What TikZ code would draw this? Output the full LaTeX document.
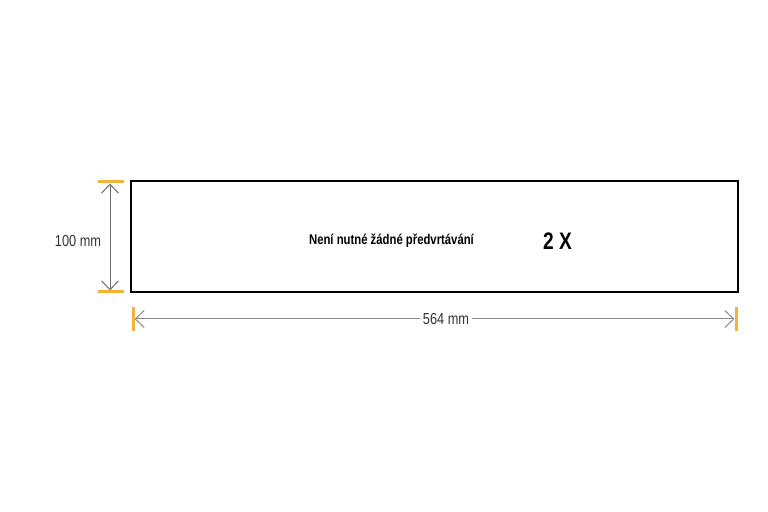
\documentclass[tikz,border=0pt]{standalone}
\usepackage{fontspec}
\setmainfont{Liberation Sans}[FakeStretch=0.8]
\usetikzlibrary{arrows.meta}
\definecolor{tickcol}{HTML}{F5B335}
\definecolor{dimcol}{HTML}{6E6E6E}
\tikzset{
  tick/.style={draw=tickcol,line width=3bp},
  dimline/.style={draw=dimcol,line width=1bp,{Straight Barb[length=9bp,width=17bp]}-{Straight Barb[length=9bp,width=17bp]}},
  dimlabel/.style={fill=white,inner sep=3bp,text=black!80,font=\fontsize{16}{16}\selectfont}
}
\begin{document}
\begin{tikzpicture}
  \useasboundingbox (0bp,0bp) rectangle (768bp,512bp);
  % board
  \node (Board) at (434.5bp,275.5bp) [draw,line width=2bp,minimum width=607bp,minimum height=111bp,inner sep=0pt] {};
  \node (Note) at (391.5bp,271.0bp) [font=\bfseries\fontsize{14.2}{14.2}\selectfont] {Není nutné žádné předvrtávání};
  \node (Count) at (557.5bp,271.0bp) [font=\bfseries\fontsize{24}{24}\selectfont] {2 X};
  % height
  \coordinate (HTopL) at (98bp,330bp);
  \coordinate (HTopR) at (124bp,330bp);
  \coordinate (HBotL) at (98bp,220bp);
  \coordinate (HBotR) at (124bp,220bp);
  \coordinate (HTop) at (110bp,328.5bp);
  \coordinate (HBot) at (110bp,221.5bp);
  \draw [tick] (HTopL) -- (HTopR);
  \draw [tick] (HBotL) -- (HBotR);
  \draw [dimline] (HTop) -- (HBot);
  \node (Height) at (78bp,271.0bp) [dimlabel] {100 mm};
  % width
  \coordinate (WLeftT) at (133bp,205bp);
  \coordinate (WLeftB) at (133bp,181bp);
  \coordinate (WRightT) at (736bp,205bp);
  \coordinate (WRightB) at (736bp,181bp);
  \coordinate (WLeft) at (134.5bp,193bp);
  \coordinate (WRight) at (734.5bp,193bp);
  \draw [tick] (WLeftT) -- (WLeftB);
  \draw [tick] (WRightT) -- (WRightB);
  \draw [dimline,draw=dimcol!80] (WLeft) -- (WRight);
  \node (Width) at (446bp,193bp) [dimlabel] {564 mm};
\end{tikzpicture}
\end{document}
